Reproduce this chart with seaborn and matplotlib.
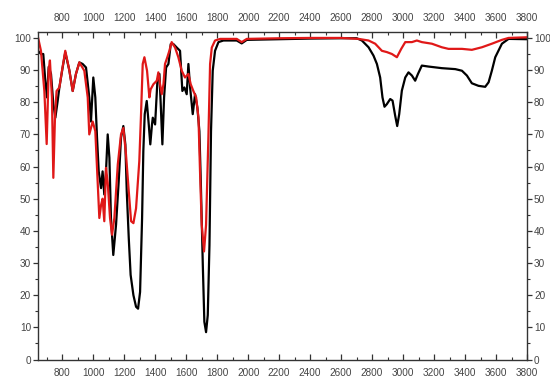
import numpy as np
import pandas as pd
import matplotlib
matplotlib.use("Agg")
import matplotlib.pyplot as plt
import seaborn as sns
from matplotlib.ticker import MultipleLocator

# ---- data ----
black_x = [643, 662, 677, 690, 701, 712, 727, 742, 755, 770, 781, 802, 819, 845, 867, 888, 910,
           931, 953, 974, 985, 1000, 1013, 1024, 1035, 1050, 1060, 1071, 1082, 1093, 1104, 1114,
           1129, 1147, 1164, 1179, 1194, 1207, 1216, 1229, 1241, 1259, 1276, 1289, 1302, 1315,
           1323, 1332, 1345, 1358, 1368, 1379, 1384, 1399, 1414, 1427, 1438, 1446, 1457, 1470,
           1485, 1500, 1517, 1539, 1560, 1575, 1588, 1603, 1614, 1625, 1642, 1657, 1672, 1685,
           1694, 1707, 1717, 1728, 1739, 1750, 1760, 1771, 1786, 1808, 1840, 1926, 1958, 1991,
           2200, 2400, 2600, 2700, 2734, 2777, 2809, 2831, 2852, 2867, 2880, 2895, 2917, 2932,
           2949, 2962, 2975, 2992, 3014, 3035, 3057, 3078, 3096, 3121, 3164, 3250, 3337, 3380,
           3412, 3444, 3487, 3530, 3552, 3573, 3595, 3638, 3681, 3800]
black_y = [96, 95, 95, 86.7, 81.5, 91, 88.8, 79.4, 75.2, 80.4, 84.6, 90.8, 95.5, 90, 83.5, 88.8, 92.4,
           91.9, 90.8, 81.5, 74, 87.7, 81.5, 69, 58.5, 53.3, 58.5, 51.3, 58.5, 70, 62.7, 44,
           32.5, 42, 55.4, 69, 72.6, 66.9, 52.3, 37.7, 26.3, 20, 16.4, 15.8, 21, 44,
           64.8, 76.3, 80.4, 73.1, 66.9, 73.1, 75.2, 73.1, 86.7, 88.8, 76.3, 66.9, 81.5, 90.8,
           91.9, 98.1, 98.1, 97, 96, 83.5, 84.6, 82.5, 91.9, 84.6, 76.3, 82.5, 78.3, 71,
           55.4, 29.4, 11.7, 8.5, 13.8, 35.6, 71, 89.8, 96, 98.7, 99.2, 99.2, 98.3, 99.4,
           99.6, 99.8, 99.9, 99.9, 99.2, 97.1, 94.5, 91.9, 87.7, 81.5, 78.6, 79.4, 81, 80.5,
           75.8, 72.6, 76.3, 83.6, 87.7, 89.3, 88.3, 86.7, 88.8, 91.4, 91.1, 90.6, 90.3, 89.8,
           88.3, 85.9, 85.1, 84.8, 86.2, 89.8, 94, 98.2, 99.7, 99.6]

red_x = [643, 662, 684, 699, 712, 720, 733, 742, 753, 763, 781, 798, 819, 845, 867, 888, 910,
         942, 964, 974, 996, 1013, 1028, 1039, 1050, 1060, 1071, 1082, 1093, 1108, 1121, 1136,
         1158, 1179, 1194, 1211, 1229, 1244, 1259, 1276, 1297, 1308, 1319, 1330, 1347, 1362,
         1370, 1388, 1410, 1420, 1431, 1442, 1453, 1463, 1478, 1491, 1506, 1528, 1549, 1571,
         1592, 1614, 1629, 1646, 1664, 1679, 1689, 1700, 1715, 1728, 1743, 1754, 1765, 1786,
         1819, 1926, 1958, 1991, 2200, 2400, 2600, 2712, 2777, 2820, 2863, 2895, 2928, 2960,
         2988, 3014, 3057, 3089, 3121, 3186, 3250, 3293, 3380, 3444, 3509, 3573, 3638, 3681, 3800]
red_y = [100.2, 96, 83.5, 67, 90, 93, 81.5, 56.5, 76, 83.5, 84.6, 89.8, 96, 90, 83.5, 88.8, 92.4,
         89.8, 81.5, 70, 74, 71, 55.4, 44, 48, 50, 43, 59.6, 55, 44, 38.8, 44,
         60.6, 70, 72, 63.8, 52.3, 43, 42.4, 47, 61.7, 76, 91.9, 94, 89.8, 81.5,
         84, 85.6, 86.7, 89.3, 85.6, 82.5, 85.6, 91.9, 94, 96, 98.7, 97, 94, 89.8,
         87.7, 88.8, 85.6, 83.5, 81.5, 75.2, 58.5, 41.9, 33.6, 41.9, 69, 91.9, 97, 99.2,
         99.7, 99.7, 98.7, 99.7, 99.9, 100, 100, 99.7, 99.2, 98.2, 96, 95.6, 95, 94,
         96.6, 98.7, 98.7, 99.2, 98.7, 98.2, 97.1, 96.6, 96.6, 96.3, 97.1, 98.2, 99.4, 100, 100.2]

x_major = [800, 1000, 1200, 1400, 1600, 1800, 2000, 2200, 2400, 2600, 2800, 3000, 3200, 3400, 3600, 3800]
y_major = [0, 10, 20, 30, 40, 50, 60, 70, 80, 90, 100]

df_black = pd.DataFrame({"wavenumber": black_x, "T": black_y})
df_red = pd.DataFrame({"wavenumber": red_x, "T": red_y})

sns.set_style("ticks")
plt.rcParams["font.family"] = ["Liberation Sans", "DejaVu Sans"]

fig = plt.figure(figsize=(5.5, 3.78), dpi=100)
ax = fig.add_axes([38 / 550, 1 - 359.5 / 378, (527 - 38) / 550, (359.5 - 31.5) / 378])

sns.lineplot(data=df_black, x="wavenumber", y="T", color="black", linewidth=1.6,
             estimator=None, sort=False, ax=ax)
sns.lineplot(data=df_red, x="wavenumber", y="T", color="#e01818", linewidth=1.6,
             estimator=None, sort=False, ax=ax)

ax.set_xlim(643, 3800)
ax.set_ylim(0, 102)
ax.set_xlabel("")
ax.set_ylabel("")
ax.set_xticks(x_major)
ax.set_xticklabels([str(v) for v in x_major])
ax.set_yticks(y_major)
ax.set_yticklabels([str(v) for v in y_major])
ax.xaxis.set_minor_locator(MultipleLocator(100))
ax.yaxis.set_minor_locator(MultipleLocator(5))

for s in ax.spines.values():
    s.set_visible(True)
    s.set_color("#333333")
    s.set_linewidth(1.0)

lab = "#444444"
ax.tick_params(axis="x", which="both", direction="in", top=True, bottom=True,
               labeltop=True, labelbottom=True, labelsize=7.2, labelcolor=lab, color="#333333")
ax.tick_params(axis="x", which="major", length=4, width=0.9, pad=6)
ax.tick_params(axis="x", which="minor", length=2.5, width=0.8)
ax.tick_params(axis="y", which="both", direction="out", left=True, right=True,
               labelleft=True, labelright=True, labelsize=7.2, labelcolor=lab, color="#333333")
ax.tick_params(axis="y", which="major", length=3.5, width=0.9, pad=1.5)
ax.tick_params(axis="y", which="minor", length=2.2, width=0.8)

fig.savefig("out.png", dpi=100)
